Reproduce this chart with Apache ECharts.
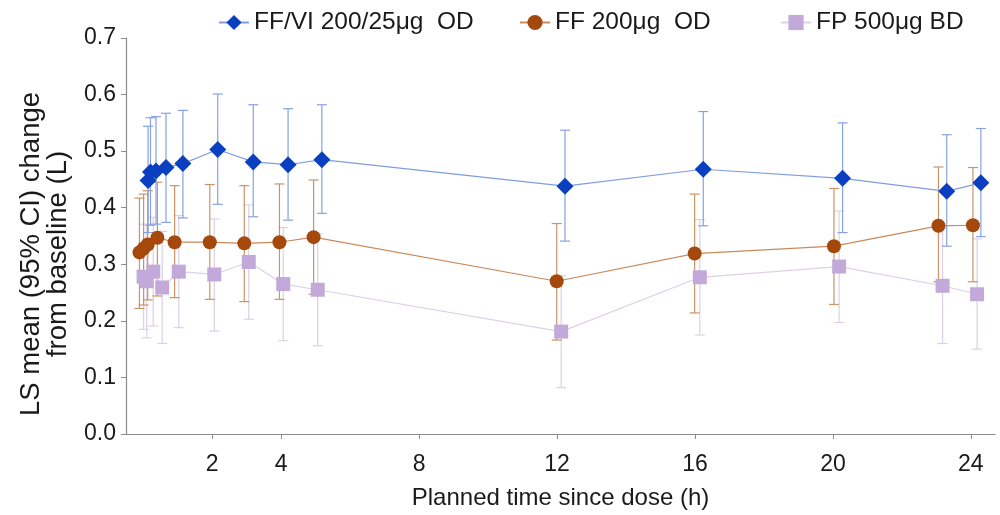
<!DOCTYPE html>
<html>
<head>
<meta charset="utf-8">
<script src="https://cdn.jsdelivr.net/npm/echarts@6/dist/echarts.min.js"></script>
<style>
  html, body { margin: 0; padding: 0; background: #fff; }
  #chart { width: 1000px; height: 515px; }
</style>
</head>
<body>
<div id="chart"></div>
<script>
// FF/VI 200/25µg OD
var blueHours = [0.14, 0.21, 0.37, 0.66, 1.15, 2.16, 3.19, 4.2, 5.18, 12.23, 16.24, 20.28, 23.3, 24.29];
var blueMean = [0.448, 0.463, 0.465, 0.471, 0.478, 0.503, 0.481, 0.476, 0.485, 0.438, 0.468, 0.452, 0.429, 0.444];
var blueLow = [0.356, 0.369, 0.371, 0.374, 0.382, 0.406, 0.384, 0.378, 0.390, 0.341, 0.368, 0.356, 0.332, 0.349];
var blueHigh = [0.544, 0.559, 0.561, 0.567, 0.572, 0.601, 0.582, 0.575, 0.582, 0.537, 0.570, 0.550, 0.529, 0.540];
// FF 200µg OD
var ffHours = [-0.11, 0.01, 0.13, 0.41, 0.91, 1.93, 2.93, 3.95, 4.94, 11.99, 15.99, 20.03, 23.06, 24.06];
var ffMean = [0.321, 0.328, 0.335, 0.347, 0.339, 0.339, 0.337, 0.339, 0.348, 0.270, 0.319, 0.332, 0.368, 0.369];
var ffLow = [0.222, 0.228, 0.237, 0.244, 0.241, 0.238, 0.234, 0.238, 0.247, 0.166, 0.214, 0.229, 0.269, 0.269];
var ffHigh = [0.417, 0.424, 0.430, 0.445, 0.439, 0.441, 0.439, 0.442, 0.449, 0.372, 0.424, 0.434, 0.472, 0.471];
// FP 500µg BD
var fpHours = [0.01, 0.1, 0.29, 0.55, 1.03, 2.06, 3.06, 4.06, 5.06, 12.12, 16.14, 20.18, 23.18, 24.18];
var fpMean = [0.278, 0.270, 0.287, 0.259, 0.287, 0.282, 0.304, 0.265, 0.255, 0.181, 0.277, 0.296, 0.262, 0.247];
var fpLow = [0.185, 0.170, 0.191, 0.160, 0.188, 0.182, 0.203, 0.165, 0.156, 0.082, 0.175, 0.197, 0.160, 0.150];
var fpHigh = [0.371, 0.370, 0.383, 0.358, 0.386, 0.380, 0.405, 0.365, 0.354, 0.280, 0.379, 0.394, 0.363, 0.345];

var xTicks = [2, 4, 8, 12, 16, 20, 24];
var names = ['FF/VI 200/25\u03bcg  OD', 'FF 200\u03bcg  OD', 'FP 500\u03bcg BD'];

var font = '"Liberation Sans", Arial, sans-serif';

function pairs(xs, ys) {
    var out = [];
    for (var i = 0; i < xs.length; i++) out.push([xs[i], ys[i]]);
    return out;
}
function bars(xs, lo, hi) {
    var out = [];
    for (var i = 0; i < xs.length; i++) out.push([xs[i], lo[i], hi[i]]);
    return out;
}

// vertical CI bar with small caps
function errSeries(data, color) {
    return {
        type: 'custom',
        silent: true,
        z: 1,
        data: data,
        encode: { x: 0, y: [1, 2] },
        renderItem: function(params, api) {
            var x = api.value(0);
            var top = api.coord([x, api.value(2)]);
            var bot = api.coord([x, api.value(1)]);
            var w = 5;
            var st = { stroke: color, lineWidth: 1.2 };
            return {
                type: 'group',
                children: [
                    { type: 'line', shape: { x1: top[0], y1: top[1], x2: bot[0], y2: bot[1] }, style: st },
                    { type: 'line', shape: { x1: top[0] - w, y1: top[1], x2: top[0] + w, y2: top[1] }, style: st },
                    { type: 'line', shape: { x1: bot[0] - w, y1: bot[1], x2: bot[0] + w, y2: bot[1] }, style: st }
                ]
            };
        }
    };
}

function lineSeries(name, data, symbol, size, markColor, lineColor) {
    return {
        name: name,
        type: 'line',
        z: 3,
        data: data,
        symbol: symbol,
        symbolSize: size,
        showAllSymbol: true,
        itemStyle: { color: markColor, opacity: 1 },
        lineStyle: { color: lineColor, width: 1.2 },
        emphasis: { disabled: true }
    };
}

var chart = echarts.init(document.getElementById('chart'));
var legendText = { fontFamily: font, fontSize: 24.5, color: '#1a1a1a' };

var option = {
    animation: false,
    backgroundColor: '#fff',
    legend: [
        { data: [names[0]], left: 213, top: 5, itemWidth: 30, itemHeight: 19, textStyle: legendText },
        { data: [names[1]], left: 514, top: 5, itemWidth: 30, itemHeight: 19, textStyle: legendText },
        { data: [names[2]], left: 775, top: 5, itemWidth: 30, itemHeight: 19, textStyle: legendText }
    ],
    grid: { left: 126, right: 5, top: 38, bottom: 80 },
    xAxis: {
        type: 'value',
        min: -0.5,
        max: 24.7,
        name: 'Planned time since dose (h)',
        nameLocation: 'middle',
        nameGap: 52,
        nameTextStyle: { fontFamily: font, fontSize: 24, color: '#1a1a1a' },
        axisLine: { onZero: false, lineStyle: { color: '#8c8c8c', width: 1.2 } },
        axisTick: { length: 5, customValues: xTicks, lineStyle: { color: '#8c8c8c' } },
        axisLabel: { customValues: xTicks, margin: 19, fontFamily: font, fontSize: 23, color: '#1a1a1a' },
        splitLine: { show: false }
    },
    yAxis: {
        type: 'value',
        min: 0,
        max: 0.7,
        interval: 0.1,
        axisLine: { show: true, onZero: false, lineStyle: { color: '#8c8c8c', width: 1.2 } },
        axisTick: { show: true, length: 5, lineStyle: { color: '#8c8c8c' } },
        axisLabel: {
            margin: 10,
            fontFamily: font,
            fontSize: 23,
            color: '#1a1a1a',
            formatter: function(v) { return v.toFixed(1); }
        },
        splitLine: { show: false }
    },
    graphic: [
        {
            type: 'text',
            x: 31, y: 254,
            rotation: Math.PI / 2,
            style: { text: 'LS mean (95% CI) change', fontFamily: font, fontSize: 27.5, fill: '#1a1a1a', align: 'center', verticalAlign: 'middle' }
        },
        {
            type: 'text',
            x: 58, y: 254,
            rotation: Math.PI / 2,
            style: { text: 'from baseline (L)', fontFamily: font, fontSize: 27.5, fill: '#1a1a1a', align: 'center', verticalAlign: 'middle' }
        }
    ],
    series: [
        errSeries(bars(fpHours, fpLow, fpHigh), '#ddd0e6'),
        errSeries(bars(ffHours, ffLow, ffHigh), '#c99468'),
        errSeries(bars(blueHours, blueLow, blueHigh), '#86a2e0'),
        lineSeries(names[2], pairs(fpHours, fpMean), 'rect', 14, '#c2a9d9', '#ddd0e8'),
        lineSeries(names[1], pairs(ffHours, ffMean), 'circle', 14, '#a4490b', '#c98a5c'),
        lineSeries(names[0], pairs(blueHours, blueMean), 'diamond', 17, '#0a3fc0', '#7f9ee0')
    ]
};
chart.setOption(option);
</script>
</body>
</html>
